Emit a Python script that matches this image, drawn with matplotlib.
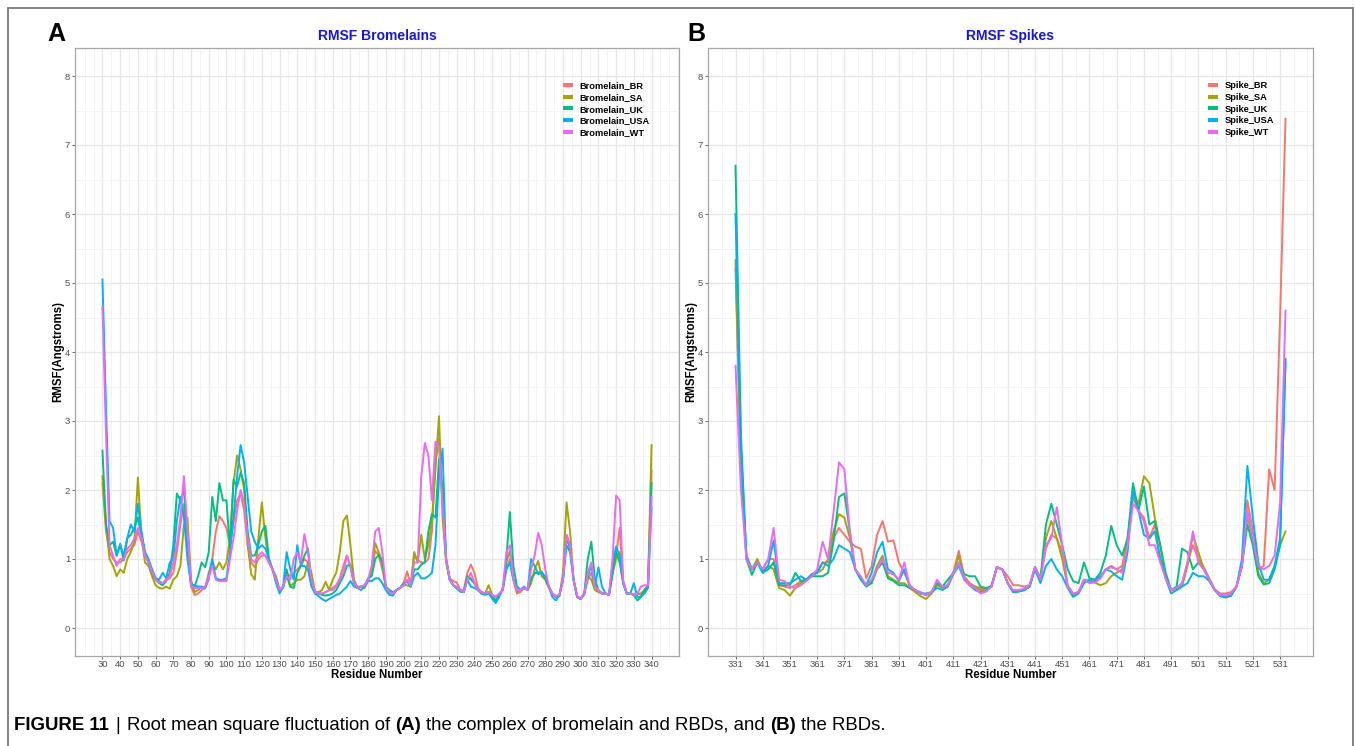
import matplotlib
matplotlib.use("Agg")
import matplotlib.pyplot as plt
from matplotlib import font_manager
from matplotlib.lines import Line2D
from matplotlib.patches import Rectangle
import numpy as np

_names = {f.name for f in font_manager.fontManager.ttflist}
FONT = "Liberation Sans" if "Liberation Sans" in _names else "DejaVu Sans"
plt.rcParams["font.family"] = [FONT, "DejaVu Sans"]

W, H, DPI = 1355, 746, 100

# ----------------------------------------------------------------- data
series_names_A = ["Bromelain_BR", "Bromelain_SA", "Bromelain_UK", "Bromelain_USA", "Bromelain_WT"]
series_names_B = ["Spike_BR", "Spike_SA", "Spike_UK", "Spike_USA", "Spike_WT"]
series_colors = ["#F8766D", "#A3A500", "#00BF7D", "#00B0F6", "#E76BF3"]

bromelain_residues = np.arange(30, 341, 2)
bromelain_xticks = list(range(30, 341, 10))

bromelain_BR = [
    2.1, 1.4, 1.1, 1.0, 0.95, 0.95, 1.0, 1.1, 1.15, 1.2,
    1.4, 1.25, 1.05, 0.95, 0.85, 0.72, 0.68, 0.65, 0.7, 0.72,
    0.8, 1.1, 1.5, 1.8, 1.2, 0.6, 0.48, 0.5, 0.55, 0.58,
    0.7, 1.0, 1.4, 1.62, 1.55, 1.45, 1.2, 1.55, 1.85, 1.95,
    1.7, 1.2, 0.95, 0.88, 1.0, 1.05, 1.05, 0.95, 0.85, 0.7,
    0.55, 0.6, 0.8, 0.75, 0.8, 0.85, 0.9, 1.0, 0.95, 0.7,
    0.52, 0.5, 0.5, 0.52, 0.55, 0.58, 0.62, 0.72, 0.9, 1.05,
    0.88, 0.65, 0.6, 0.6, 0.62, 0.68, 0.85, 1.12, 1.05, 0.85,
    0.6, 0.52, 0.5, 0.55, 0.58, 0.65, 0.82, 0.62, 1.05, 0.98,
    0.95, 0.95, 1.0, 1.4, 2.4, 2.75, 1.9, 1.0, 0.72, 0.68,
    0.66, 0.55, 0.55, 0.8, 0.92, 0.8, 0.58, 0.52, 0.5, 0.52,
    0.48, 0.45, 0.5, 0.55, 0.85, 1.0, 0.7, 0.5, 0.52, 0.58,
    0.55, 0.72, 0.8, 0.8, 0.82, 0.72, 0.6, 0.5, 0.46, 0.48,
    0.7, 1.35, 1.2, 0.7, 0.46, 0.43, 0.5, 0.7, 0.8, 0.58,
    0.55, 0.5, 0.5, 0.48, 0.8, 1.05, 1.45, 0.68, 0.5, 0.5,
    0.48, 0.5, 0.5, 0.55, 0.62, 2.28]
bromelain_SA = [
    2.2, 1.5, 1.0, 0.9, 0.75, 0.85, 0.8, 1.0, 1.1, 1.25,
    2.18, 1.35, 0.95, 0.9, 0.75, 0.62, 0.58, 0.57, 0.6, 0.57,
    0.7, 0.75, 0.9, 1.5, 1.6, 0.7, 0.52, 0.55, 0.6, 0.58,
    0.8, 0.95, 0.85, 0.95, 0.85, 0.95, 1.3, 2.1, 2.5, 2.3,
    2.0, 1.2, 0.78, 0.7, 1.3, 1.82, 1.3, 0.95, 0.85, 0.75,
    0.55, 0.6, 0.75, 0.6, 0.65, 0.7, 0.7, 0.75, 0.95, 0.8,
    0.52, 0.52, 0.55, 0.67, 0.55, 0.7, 0.8, 1.1, 1.55, 1.63,
    1.2, 0.7, 0.58, 0.6, 0.58, 0.7, 0.85, 1.23, 1.1, 0.95,
    0.58, 0.52, 0.5, 0.55, 0.58, 0.62, 0.62, 0.6, 1.1, 0.95,
    1.35, 1.0, 1.2, 1.55, 2.3, 3.07, 1.6, 0.95, 0.7, 0.62,
    0.58, 0.53, 0.52, 0.75, 0.72, 0.65, 0.55, 0.5, 0.5, 0.62,
    0.48, 0.45, 0.48, 0.55, 0.95, 1.12, 0.7, 0.52, 0.55, 0.58,
    0.55, 0.65, 0.85, 0.97, 0.75, 0.7, 0.58, 0.5, 0.45, 0.46,
    0.8, 1.82, 1.4, 0.68, 0.45, 0.42, 0.48, 0.75, 0.7, 0.55,
    0.52, 0.5, 0.5, 0.48, 0.8, 1.0, 1.1, 0.65, 0.5, 0.5,
    0.48, 0.5, 0.48, 0.55, 0.6, 2.65]
bromelain_UK = [
    2.57, 1.5, 1.2, 1.25, 1.05, 1.22, 0.98, 1.3, 1.35, 1.45,
    1.6, 1.35, 1.1, 0.95, 0.8, 0.7, 0.65, 0.62, 0.68, 0.8,
    1.2, 1.95, 1.85, 2.0, 1.3, 0.65, 0.6, 0.75, 0.95, 0.88,
    1.1, 1.9, 1.55, 2.1, 1.85, 1.85, 1.15, 2.15, 2.05, 2.25,
    2.1, 1.4, 1.05, 1.05, 1.2, 1.4, 1.48, 1.0, 0.85, 0.7,
    0.55, 0.58, 0.85, 0.6, 0.58, 0.8, 0.9, 1.05, 1.15, 0.7,
    0.5, 0.5, 0.48, 0.47, 0.48, 0.5, 0.55, 0.65, 0.75, 0.9,
    0.92, 0.65, 0.58, 0.6, 0.62, 0.72, 0.75, 1.0, 1.06, 0.95,
    0.6, 0.55, 0.52, 0.55, 0.58, 0.65, 0.68, 0.62, 0.85, 0.85,
    0.92, 0.95, 1.4, 1.65, 1.6, 2.45, 2.0, 1.0, 0.72, 0.62,
    0.58, 0.53, 0.52, 0.75, 0.7, 0.65, 0.55, 0.52, 0.5, 0.52,
    0.46, 0.4, 0.48, 0.55, 1.0, 1.68, 0.9, 0.6, 0.55, 0.58,
    0.55, 0.7, 0.8, 0.8, 0.8, 0.72, 0.6, 0.5, 0.45, 0.48,
    0.7, 1.2, 1.1, 0.7, 0.45, 0.42, 0.5, 1.0, 1.25, 0.7,
    0.55, 0.5, 0.5, 0.48, 0.8, 1.1, 0.95, 0.65, 0.5, 0.5,
    0.48, 0.4, 0.45, 0.55, 0.6, 2.1]
bromelain_USA = [
    5.05, 3.2, 1.55, 1.45, 1.05, 1.2, 1.05, 1.3, 1.5, 1.4,
    1.8, 1.4, 1.1, 1.0, 0.85, 0.72, 0.7, 0.8, 0.72, 0.95,
    1.0, 1.55, 1.9, 1.6, 1.0, 0.62, 0.62, 0.6, 0.6, 0.58,
    0.75, 1.0, 0.72, 0.7, 0.7, 0.72, 1.1, 1.6, 2.2, 2.65,
    2.4, 1.9, 1.4, 1.25, 1.15, 1.2, 1.15, 1.0, 0.85, 0.65,
    0.5, 0.6, 1.1, 0.85, 0.7, 1.2, 0.9, 0.9, 0.85, 0.6,
    0.5, 0.46, 0.42, 0.39, 0.42, 0.45, 0.48, 0.5, 0.55, 0.6,
    0.68, 0.6, 0.58, 0.55, 0.6, 0.68, 0.68, 0.72, 0.72, 0.65,
    0.55, 0.48, 0.47, 0.55, 0.58, 0.62, 0.68, 0.6, 0.75, 0.8,
    0.72, 0.72, 0.75, 0.8, 1.2, 2.2, 2.6, 1.0, 0.7, 0.62,
    0.58, 0.53, 0.52, 0.7, 0.6, 0.58, 0.55, 0.5, 0.48, 0.5,
    0.43, 0.36, 0.45, 0.58, 0.85, 0.95, 0.7, 0.6, 0.55, 0.6,
    0.55, 1.0, 0.9, 0.78, 0.8, 0.75, 0.6, 0.45, 0.4, 0.48,
    0.7, 1.3, 1.15, 0.7, 0.45, 0.42, 0.5, 0.75, 0.9, 0.6,
    0.88, 0.6, 0.5, 0.48, 0.95, 1.18, 1.05, 0.65, 0.5, 0.5,
    0.65, 0.45, 0.45, 0.5, 0.58, 1.75]
bromelain_WT = [
    4.65, 2.8, 1.2, 1.05, 0.9, 1.0, 1.0, 1.15, 1.2, 1.3,
    1.45, 1.3, 1.05, 0.95, 0.82, 0.7, 0.66, 0.65, 0.7, 0.75,
    0.95, 1.2, 1.6, 2.2, 1.4, 0.62, 0.58, 0.58, 0.58, 0.6,
    0.75, 0.9, 0.7, 0.68, 0.68, 0.68, 1.0, 1.3, 1.7, 2.0,
    1.8, 1.3, 1.0, 0.95, 1.05, 1.1, 1.05, 0.95, 0.85, 0.7,
    0.55, 0.6, 0.75, 0.7, 1.0, 1.1, 0.95, 1.36, 1.1, 0.7,
    0.52, 0.5, 0.5, 0.52, 0.55, 0.55, 0.6, 0.7, 0.8, 1.05,
    0.9, 0.65, 0.58, 0.6, 0.62, 0.7, 0.9, 1.4, 1.45, 1.1,
    0.6, 0.52, 0.5, 0.55, 0.58, 0.62, 0.7, 0.62, 0.95, 0.95,
    2.2, 2.68, 2.5, 1.85, 2.7, 2.6, 1.8, 1.0, 0.72, 0.62,
    0.6, 0.55, 0.52, 0.7, 0.8, 0.65, 0.55, 0.52, 0.5, 0.52,
    0.48, 0.45, 0.5, 0.55, 1.1, 1.2, 0.7, 0.55, 0.55, 0.58,
    0.55, 0.85, 1.05, 1.38, 1.2, 0.85, 0.6, 0.5, 0.46, 0.48,
    0.7, 1.35, 1.2, 0.7, 0.46, 0.43, 0.5, 0.8, 0.95, 0.6,
    0.55, 0.5, 0.5, 0.48, 1.0, 1.92, 1.85, 0.68, 0.5, 0.5,
    0.48, 0.5, 0.6, 0.62, 0.62, 1.9]

spike_residues = np.arange(331, 534, 2)
spike_xticks = list(range(331, 532, 10))

spike_BR = [
    5.2, 2.3, 1.0, 0.85, 0.95, 0.85, 1.0, 1.0, 0.62, 0.6,
    0.58, 0.62, 0.68, 0.7, 0.78, 0.82, 0.95, 0.95, 1.3, 1.45,
    1.35, 1.25, 1.18, 1.15, 0.72, 0.9, 1.35, 1.55, 1.25, 1.27,
    0.95, 0.8, 0.62, 0.55, 0.52, 0.48, 0.52, 0.65, 0.6, 0.62,
    0.8, 1.12, 0.75, 0.65, 0.6, 0.58, 0.56, 0.62, 0.88, 0.85,
    0.75, 0.62, 0.62, 0.6, 0.62, 0.88, 0.72, 1.15, 1.35, 1.3,
    1.1, 0.62, 0.5, 0.52, 0.7, 0.68, 0.68, 0.72, 0.85, 0.9,
    0.85, 0.9, 1.3, 1.9, 1.7, 1.6, 1.3, 1.5, 1.0, 0.75,
    0.55, 0.58, 0.65, 0.95, 1.2, 1.0, 0.88, 0.72, 0.56, 0.5,
    0.5, 0.52, 0.6, 0.9, 1.85, 1.4, 0.85, 0.9, 2.3, 2.0,
    4.5, 7.38]
spike_SA = [
    5.33, 2.4, 1.05, 0.85, 1.0, 0.82, 0.9, 0.85, 0.58, 0.55,
    0.47, 0.58, 0.65, 0.7, 0.75, 0.8, 0.85, 1.0, 1.4, 1.65,
    1.6, 1.3, 0.85, 0.72, 0.62, 0.68, 0.9, 1.05, 0.75, 0.7,
    0.65, 0.65, 0.58, 0.52, 0.46, 0.42, 0.5, 0.62, 0.58, 0.62,
    0.8, 1.05, 0.72, 0.62, 0.6, 0.55, 0.55, 0.6, 0.88, 0.85,
    0.65, 0.52, 0.53, 0.55, 0.6, 0.88, 0.7, 1.3, 1.55, 1.3,
    1.0, 0.6, 0.48, 0.52, 0.7, 0.68, 0.66, 0.62, 0.65, 0.75,
    0.8, 0.85, 1.2, 1.95, 1.8, 2.2, 2.1, 1.6, 1.2, 0.72,
    0.55, 0.55, 0.6, 0.9, 1.35, 1.1, 0.85, 0.7, 0.55, 0.46,
    0.44, 0.47, 0.6, 0.9, 1.62, 1.3, 0.8, 0.65, 0.7, 0.9,
    1.2, 1.4]
spike_UK = [
    6.7, 2.8, 1.0, 0.77, 0.95, 0.8, 0.85, 0.95, 0.62, 0.62,
    0.62, 0.8, 0.68, 0.7, 0.75, 0.75, 0.75, 0.8, 1.25, 1.9,
    1.95, 1.4, 0.85, 0.7, 0.6, 0.65, 0.85, 0.95, 0.72, 0.68,
    0.62, 0.62, 0.58, 0.55, 0.5, 0.48, 0.52, 0.65, 0.6, 0.7,
    0.8, 0.95, 0.78, 0.75, 0.75, 0.6, 0.58, 0.6, 0.88, 0.85,
    0.65, 0.52, 0.53, 0.55, 0.6, 0.88, 0.72, 1.5, 1.8, 1.5,
    1.2, 0.85, 0.68, 0.65, 0.95, 0.72, 0.7, 0.8, 1.05, 1.48,
    1.2, 1.05, 1.3, 2.1, 1.7, 2.05, 1.5, 1.55, 1.2, 0.8,
    0.55, 0.6, 1.15, 1.1, 0.85, 0.95, 0.85, 0.7, 0.55, 0.47,
    0.45, 0.47, 0.6, 0.9, 1.5, 1.2, 0.75, 0.63, 0.65, 0.85,
    1.2, 3.9]
spike_USA = [
    6.0, 2.6, 1.05, 0.85, 0.95, 0.8, 0.9, 1.27, 0.65, 0.65,
    0.65, 0.7, 0.75, 0.7, 0.78, 0.8, 0.95, 0.9, 1.0, 1.2,
    1.15, 1.1, 0.85, 0.72, 0.62, 0.8, 1.1, 1.25, 0.85, 0.8,
    0.68, 0.85, 0.6, 0.55, 0.5, 0.5, 0.52, 0.58, 0.55, 0.6,
    0.78, 0.9, 0.7, 0.62, 0.55, 0.52, 0.53, 0.6, 0.88, 0.85,
    0.65, 0.52, 0.53, 0.55, 0.6, 0.85, 0.65, 0.9, 1.0, 0.85,
    0.75, 0.58, 0.45, 0.5, 0.65, 0.7, 0.7, 0.75, 0.85, 0.82,
    0.75, 0.7, 1.1, 2.0, 1.7, 1.35, 1.3, 1.4, 1.0, 0.72,
    0.5, 0.55, 0.6, 0.65, 0.8, 0.75, 0.75, 0.68, 0.55, 0.47,
    0.45, 0.47, 0.6, 1.0, 2.35, 1.6, 0.95, 0.7, 0.7, 0.9,
    1.3, 3.85]
spike_WT = [
    3.8, 2.0, 1.0, 0.85, 0.95, 0.85, 1.0, 1.45, 0.7, 0.68,
    0.6, 0.58, 0.62, 0.68, 0.75, 0.85, 1.25, 1.0, 1.68, 2.4,
    2.3, 1.4, 0.85, 0.75, 0.62, 0.7, 0.85, 1.0, 0.8, 0.78,
    0.7, 0.95, 0.6, 0.55, 0.5, 0.48, 0.52, 0.7, 0.6, 0.62,
    0.8, 0.95, 0.72, 0.62, 0.58, 0.5, 0.53, 0.6, 0.88, 0.85,
    0.65, 0.55, 0.55, 0.57, 0.62, 0.88, 0.7, 1.2, 1.3, 1.75,
    1.2, 0.6, 0.5, 0.52, 0.7, 0.65, 0.66, 0.72, 0.85, 0.88,
    0.85, 0.8, 1.2, 1.8, 1.7, 1.55, 1.2, 1.2, 0.95, 0.72,
    0.55, 0.58, 0.65, 0.95, 1.4, 0.95, 0.85, 0.7, 0.55, 0.48,
    0.48, 0.5, 0.6, 0.9, 1.7, 1.3, 0.9, 0.85, 0.9, 1.05,
    1.8, 4.6]

# ----------------------------------------------------------------- layout (pixels)
PANEL_TOP, PANEL_BOTTOM = 48.4, 655.6
LEFT_BOX = (75, 679)
RIGHT_BOX = (708, 1313)

fig = plt.figure(figsize=(W / DPI, H / DPI), dpi=DPI)
fig.patch.set_facecolor("white")

fig.add_artist(Rectangle((8 / W, -0.05), (1353 - 8) / W, 1 - 8 / H + 0.05,
                         transform=fig.transFigure, fill=False,
                         edgecolor="#7A7A7A", linewidth=1.3, clip_on=False))


def add_axes(box):
    x0, x1 = box
    return fig.add_axes([x0 / W, 1 - PANEL_BOTTOM / H, (x1 - x0) / W,
                         (PANEL_BOTTOM - PANEL_TOP) / H])


def draw_panel(box, x, ys, names, xticks, xlim, title, leg_x):
    ax = add_axes(box)
    x0, x1 = box
    ph = PANEL_BOTTOM - PANEL_TOP
    for y, n, c in zip(ys, names, series_colors):
        ax.plot(x, y, color=c, lw=1.4, label=n, solid_joinstyle="round")
    ax.set_xlim(*xlim)
    ax.set_ylim(-0.4, 8.4)
    ax.set_xticks(xticks)
    ax.set_xticklabels([str(t) for t in xticks])
    step = xticks[1] - xticks[0]
    minor = [v for v in np.arange(xticks[0] - step, xticks[-1] + 2 * step, step / 2)
             if xlim[0] <= v <= xlim[1] and v not in xticks]
    ax.set_xticks(minor, minor=True)
    ax.set_yticks(range(0, 9))
    ax.set_yticks(np.arange(0.5, 8, 1), minor=True)
    ax.grid(which="major", color="#E6E6E6", lw=0.9)
    ax.grid(which="minor", color="#F1F1F1", lw=0.6)
    ax.set_axisbelow(True)
    ax.tick_params(which="major", length=2.3, width=0.7, color="#666666",
                   labelsize=6.8, labelcolor="#4D4D4D", pad=1.2)
    ax.tick_params(which="minor", length=0)
    for s in ax.spines.values():
        s.set_color("#A6A6A6")
        s.set_linewidth(0.9)
    ax.set_xlabel("Residue Number", fontsize=8.3, fontweight="bold", va="center")
    ax.xaxis.set_label_coords(0.5, (PANEL_BOTTOM - 675) / ph)
    ax.set_ylabel("RMSF(Angstroms)", fontsize=8.3, fontweight="bold", va="center")
    ax.yaxis.set_label_coords(-17 / (x1 - x0), 0.5)
    ax.text(0.5, (PANEL_BOTTOM - 36) / ph, title, transform=ax.transAxes,
            ha="center", va="center", color="#1515E8", fontsize=10, fontweight="bold")
    handles = [Line2D([], [], color=c, lw=2.9, solid_capstyle="butt") for c in series_colors]
    ax.legend(handles, names, loc="upper left",
              bbox_to_anchor=((leg_x - x0) / (x1 - x0), (PANEL_BOTTOM - 81) / ph),
              frameon=False, prop={"size": 6.7, "weight": "bold"},
              handlelength=1.12, handletextpad=0.65, labelspacing=0.3,
              borderpad=0, borderaxespad=0)
    return ax


draw_panel(LEFT_BOX, bromelain_residues,
           [bromelain_BR, bromelain_SA, bromelain_UK, bromelain_USA, bromelain_WT],
           series_names_A, bromelain_xticks, (14.5, 355.5), "RMSF Bromelains", 563)
draw_panel(RIGHT_BOX, spike_residues,
           [spike_BR, spike_SA, spike_UK, spike_USA, spike_WT],
           series_names_B, spike_xticks, (320.9, 543.1), "RMSF Spikes", 1208)

fig.text(56 / W, 1 - 34 / H, "A", fontsize=18, fontweight="bold", ha="center", va="center")
fig.text(696 / W, 1 - 34 / H, "B", fontsize=18, fontweight="bold", ha="center", va="center")

# ----------------------------------------------------------------- caption
caption_parts = [("FIGURE 11", "bold"), ("|", "normal"),
                 ("Root mean square fluctuation of", "normal"), ("(A)", "bold"),
                 ("the complex of bromelain and RBDs, and", "normal"), ("(B)", "bold"),
                 ("the RBDs.", "normal")]
renderer = fig.canvas.get_renderer()


def place_caption(size, x_start=14, baseline=730):
    texts = []
    x = x_start
    space = 0.278 * size * DPI / 72
    for s, w in caption_parts:
        t = fig.text(x / W, 1 - baseline / H, s, fontsize=size, fontweight=w,
                     ha="left", va="baseline")
        bb = t.get_window_extent(renderer)
        x = bb.x1 + space * (1.3 if s in ("FIGURE 11", "|") else 1.0)
        texts.append(t)
    return texts, texts[-1].get_window_extent(renderer).x1 - x_start


texts, width = place_caption(12)
for t in texts:
    t.remove()
place_caption(12 * 878 / width)

fig.savefig("out.png", dpi=DPI)
